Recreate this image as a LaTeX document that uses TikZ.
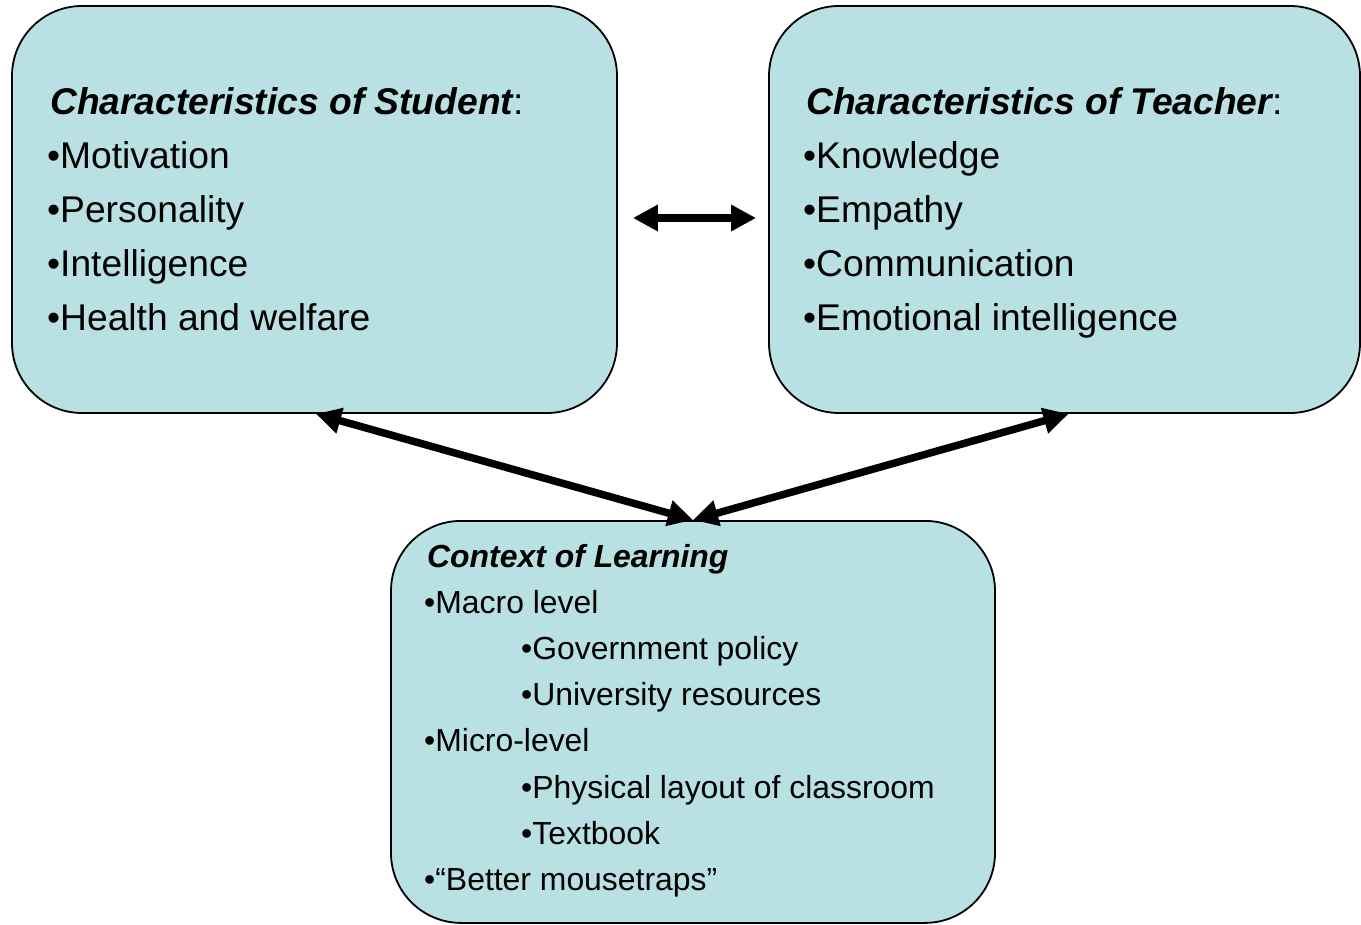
\documentclass[tikz,border=0pt]{standalone}
\usepackage{fontspec}
\setmainfont{Liberation Sans}
\usetikzlibrary{arrows.meta}
\definecolor{boxfill}{RGB}{185,224,227}
\begin{document}
\begin{tikzpicture}[x=1pt,y=-1pt,
  card/.style={draw=black, line width=1.8pt, fill=boxfill, rounded corners=70pt,
    inner sep=0pt, minimum width=#1},
  bigtxt/.style={anchor=base west, inner sep=0pt, font=\fontsize{37.2}{44}\selectfont},
  smalltxt/.style={anchor=base west, inner sep=0pt, font=\fontsize{31.9}{38}\selectfont},
  link/.style={line width=7.5pt, {Triangle[length=25pt,width=25pt]}-{Triangle[length=25pt,width=25pt]}}
]
\useasboundingbox (0,0) rectangle (1361,925);

% three boxes
\node[card=605pt, minimum height=407pt] (student) at (314.5,209.5) {};
\node[card=591pt, minimum height=407pt] (teacher) at (1064.5,209.5) {};
\node[card=604pt, minimum height=402pt, anchor=north] (context) at (693,520) {};

% student text
\node[bigtxt] (s0) at (50,115) {{\bfseries\itshape Characteristics of Student}:};
\node[bigtxt] (s1) at (47,169) {•Motivation};
\node[bigtxt] (s2) at (47,223) {•Personality};
\node[bigtxt] (s3) at (47,277) {•Intelligence};
\node[bigtxt] (s4) at (47,331) {•Health and welfare};

% teacher text
\node[bigtxt] (t0) at (806,115) {{\bfseries\itshape Characteristics of Teacher}:};
\node[bigtxt] (t1) at (803,169) {•Knowledge};
\node[bigtxt] (t2) at (803,223) {•Empathy};
\node[bigtxt] (t3) at (803,277) {•Communication};
\node[bigtxt] (t4) at (803,331) {•Emotional intelligence};

% context text
\node[smalltxt] (c0) at (427,567.5) {{\bfseries\itshape Context of Learning}};
\node[smalltxt] (c1) at (424,613.6) {•Macro level};
\node[smalltxt] (c2) at (521,659.7) {•Government policy};
\node[smalltxt] (c3) at (521,705.8) {•University resources};
\node[smalltxt] (c4) at (424,751.9) {•Micro-level};
\node[smalltxt] (c5) at (521,798.0) {•Physical layout of classroom};
\node[smalltxt] (c6) at (521,844.1) {•Textbook};
\node[smalltxt] (c7) at (424,890.2) {•“Better mousetraps”};

% connectors
\draw[link, line width=8pt] ([xshift=15pt,yshift=-8.5pt]student.east) -- ([xshift=-12pt,yshift=-8.5pt]teacher.west);
\draw[link] ([xshift=1.5pt]student.south) -- (context.north);
\draw[link] ([xshift=4pt]teacher.south) -- (context.north);
\end{tikzpicture}
\end{document}
